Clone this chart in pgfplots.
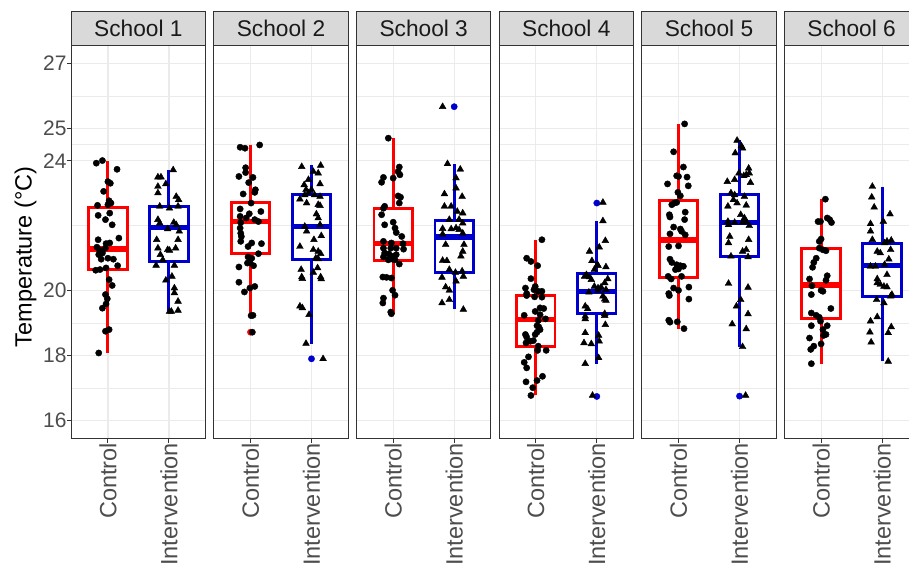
\documentclass[border=0pt]{standalone}
\usepackage{fontspec}
\setmainfont{Liberation Sans}
\usepackage{pgfplots}
\pgfplotsset{compat=1.18}
\definecolor{gridc}{HTML}{EBEBEB}
\definecolor{borderc}{HTML}{333333}
\definecolor{tickc}{HTML}{4D4D4D}
\definecolor{stripc}{HTML}{D9D9D9}
\definecolor{striptext}{HTML}{1A1A1A}
\definecolor{cred}{HTML}{FF0000}
\definecolor{cblue}{HTML}{0000CD}
\pgfplotsset{
  panel/.style={
    width=134.2pt, height=392.6pt, scale only axis,
    xmin=0.4, xmax=2.6, ymin=15.45, ymax=27.55,
    xtick={1,2}, xticklabels={Control,Intervention},
    ytick={16,18,20,24,25,27}, minor ytick={17,19,22,24.5,26},
    yticklabels={16,18,20,24,25,27},
    grid=both,
    major grid style={draw=gridc, line width=1.2pt},
    minor grid style={draw=gridc, line width=0.6pt},
    axis line style={draw=borderc, line width=0.9pt},
    tick align=outside, major tick length=4.5pt, minor tick length=0pt,
    tick style={draw=borderc, line width=0.9pt},
    xtick pos=bottom, ytick pos=left,
    /pgf/number format/assume math mode=true,
    x tick label style={rotate=90, anchor=east, inner sep=0pt, font=\fontsize{23.5}{23.5}\selectfont, text=tickc},
    y tick label style={anchor=east, inner sep=0pt, font=\fontsize{21}{21}\selectfont, text=tickc},
    every axis title/.style={at={(0.5,1)}, anchor=south, fill=stripc, draw=borderc, line width=0.9pt, minimum width=134.2pt, minimum height=33.4pt, inner sep=0pt, text=striptext, font=\fontsize{22.7}{22.7}\selectfont},
  },
  noy/.style={yticklabels={}, ytick style={draw=none}},
  cpts/.style={only marks, mark=*, mark size=3.15pt, black},
  ipts/.style={only marks, mark=triangle*, mark size=3.9pt, black},
  ocout/.style={only marks, mark=*, mark size=3.15pt, cred},
  oiout/.style={only marks, mark=*, mark size=3.15pt, cblue},
}
% box: lower whisker, lower quartile, median, upper quartile, upper whisker
\newcommand{\ctrlbox}[5]{%
  \addplot[draw=cred, line width=2.9pt, mark=none] coordinates {(1,#1) (1,#2)};
  \addplot[draw=cred, line width=2.9pt, mark=none] coordinates {(1,#4) (1,#5)};
  \addplot[draw=cred, fill=white, line width=2.9pt, mark=none] coordinates {(0.685,#2) (1.315,#2) (1.315,#4) (0.685,#4)} -- cycle;
  \addplot[draw=cred, line width=5.6pt, mark=none] coordinates {(0.685,#3) (1.315,#3)};
}
\newcommand{\intbox}[5]{%
  \addplot[draw=cblue, line width=2.9pt, mark=none] coordinates {(2,#1) (2,#2)};
  \addplot[draw=cblue, line width=2.9pt, mark=none] coordinates {(2,#4) (2,#5)};
  \addplot[draw=cblue, fill=white, line width=2.9pt, mark=none] coordinates {(1.685,#2) (2.315,#2) (2.315,#4) (1.685,#4)} -- cycle;
  \addplot[draw=cblue, line width=5.6pt, mark=none] coordinates {(1.685,#3) (2.315,#3)};
}
\begin{document}
\begin{tikzpicture}
% ---------------- School 1
\begin{axis}[panel, at={(71.3pt,125.7pt)}, anchor=south west, title={School 1}]
\ctrlbox{18.08}{20.65}{21.29}{22.56}{24.01}
\intbox{19.36}{20.90}{21.95}{22.59}{23.72}
\addplot[cpts] table {
x y
0.81 23.93
0.91 24.01
1.15 23.74
1.00 23.36
1.04 23.31
0.93 23.06
1.02 22.77
1.05 22.70
1.00 22.65
0.83 22.63
1.03 22.39
0.84 22.32
0.96 22.19
1.07 22.03
1.18 21.62
0.84 21.57
0.97 21.45
1.03 21.47
0.82 21.34
0.86 21.26
0.96 21.31
0.85 21.11
0.91 21.16
0.89 20.97
1.00 21.00
1.09 20.97
1.16 20.77
0.80 20.63
0.87 20.65
0.97 20.70
1.02 20.34
1.07 20.16
0.96 19.88
0.99 19.75
0.97 19.59
0.91 19.46
1.02 18.80
0.96 18.75
0.85 18.08
};
\addplot[ipts] table {
x y
1.82 23.50
1.87 23.50
2.07 23.72
1.95 23.29
1.82 23.21
1.82 23.01
2.12 22.90
2.16 22.80
1.85 22.60
2.01 22.54
2.15 22.60
1.82 22.19
1.85 22.08
2.08 22.10
2.12 22.03
1.98 21.90
2.17 21.83
1.80 21.57
2.15 21.57
1.82 21.31
1.98 21.26
2.01 21.24
2.11 21.31
1.86 21.11
1.90 20.95
1.79 20.78
2.09 20.78
1.95 20.32
2.05 20.44
2.09 20.08
2.09 19.93
2.15 19.67
2.04 19.36
2.15 19.39
2.01 19.36
};
\end{axis}
% ---------------- School 2
\begin{axis}[panel, noy, at={(213.9pt,125.7pt)}, anchor=south west, title={School 2}]
\ctrlbox{19.23}{21.14}{22.13}{22.72}{24.49}
\intbox{18.37}{20.95}{21.98}{22.95}{23.86}
\addplot[ocout] coordinates {(1,18.72)};
\addplot[oiout] coordinates {(2,17.90)};
\addplot[cpts] table {
x y
0.83 24.42
0.91 24.39
1.15 24.49
0.92 23.79
0.92 23.64
0.81 23.52
1.04 23.49
0.97 23.33
1.08 23.11
1.07 23.03
0.88 22.98
1.01 22.70
0.83 22.52
0.98 22.37
1.17 22.44
0.83 22.29
0.93 22.24
1.07 22.19
1.13 22.13
0.84 22.10
0.83 21.93
0.84 21.77
0.85 21.67
0.84 21.52
1.02 21.47
0.96 21.36
1.18 21.45
1.13 21.14
0.96 21.04
1.02 21.00
0.99 20.87
0.95 20.85
1.05 20.77
0.81 20.73
0.81 20.26
0.90 19.96
0.99 20.08
1.07 20.13
1.01 19.23
1.04 19.24
1.03 18.72
};
\addplot[ipts] table {
x y
1.84 23.82
2.15 23.86
2.11 23.62
2.03 23.67
1.95 23.42
1.88 23.26
2.14 23.29
1.91 23.11
2.00 23.11
1.95 23.01
1.89 22.95
1.81 22.82
2.05 22.95
2.14 22.90
1.92 22.70
2.11 22.65
2.14 22.62
2.08 22.36
2.11 22.24
1.89 21.98
2.14 22.03
1.92 21.83
2.16 21.69
2.04 21.57
1.81 21.36
2.03 21.26
2.11 21.21
2.15 21.14
2.11 20.98
2.07 21.00
1.83 20.65
1.84 20.42
1.85 20.37
2.10 20.70
2.03 20.56
2.15 20.42
2.16 20.36
1.81 19.52
1.85 19.47
1.96 19.26
1.91 18.37
2.19 17.90
};
\end{axis}
% ---------------- School 3
\begin{axis}[panel, noy, at={(356.6pt,125.7pt)}, anchor=south west, title={School 3}]
\ctrlbox{19.29}{20.93}{21.45}{22.52}{24.70}
\intbox{19.42}{20.57}{21.65}{22.16}{23.91}
\addplot[oiout] coordinates {(2,25.67)};
\addplot[cpts] table {
x y
0.92 24.70
1.10 23.81
1.08 23.67
1.11 23.57
0.84 23.49
1.00 23.47
0.81 23.34
1.08 22.92
1.12 22.88
1.10 22.70
0.86 22.60
0.84 22.54
0.81 22.34
1.00 22.11
0.86 22.03
1.03 21.93
1.05 21.79
1.14 21.67
0.84 21.52
0.97 21.47
1.16 21.45
0.84 21.31
0.96 21.31
1.05 21.31
1.17 21.28
0.86 21.16
0.93 21.13
1.00 21.06
1.05 21.11
0.84 21.04
0.99 20.97
0.92 20.95
1.03 20.95
1.10 20.82
0.83 20.42
0.89 20.41
0.97 20.39
0.99 20.01
1.03 19.86
0.84 19.77
0.83 19.62
0.96 19.34
0.97 19.29
};
\addplot[ipts] table {
x y
1.81 25.67
1.89 23.91
2.10 23.74
2.03 23.47
2.03 23.16
1.84 22.98
2.13 22.90
1.84 22.60
1.95 22.60
2.05 22.44
2.14 22.39
1.92 22.19
2.08 22.19
2.14 22.08
1.81 21.91
1.95 21.90
2.03 21.93
2.08 21.88
1.81 21.74
2.14 21.77
1.86 21.42
2.16 21.42
2.14 21.21
2.11 21.06
1.81 20.93
1.88 20.92
1.92 20.65
2.02 20.56
2.13 20.60
2.15 20.44
1.80 20.41
2.03 20.29
1.86 20.11
1.92 20.01
1.80 19.62
1.92 19.72
2.15 19.42
};
\end{axis}
% ---------------- School 4
\begin{axis}[panel, noy, at={(499.2pt,125.7pt)}, anchor=south west, title={School 4}]
\ctrlbox{16.77}{18.27}{19.11}{19.86}{21.57}
\intbox{17.75}{19.29}{19.98}{20.53}{22.15}
\addplot[oiout] coordinates {(2,22.70) (2,16.74)};
\addplot[cpts] table {
x y
1.10 21.57
0.85 21.00
0.92 20.90
1.03 20.77
0.92 20.37
0.83 20.08
0.99 20.13
0.97 20.03
0.85 19.91
1.04 19.98
1.10 19.98
0.85 19.85
0.98 19.81
1.10 19.80
1.07 19.47
1.13 19.45
0.99 19.36
0.81 19.24
1.07 19.26
1.04 19.08
1.16 19.13
1.02 18.92
1.05 18.88
1.07 18.80
1.02 18.72
0.83 18.65
0.85 18.57
0.99 18.65
0.91 18.44
0.84 18.39
0.96 18.46
1.04 18.29
1.17 18.16
1.03 18.16
0.88 17.96
0.81 17.79
0.85 17.62
1.11 17.36
1.02 17.23
0.84 17.19
0.95 17.01
0.92 16.77
};
\addplot[ipts] table {
x y
2.10 22.72
2.10 22.15
2.14 21.54
1.88 21.21
2.04 21.34
1.92 20.92
2.01 20.80
2.15 20.73
2.02 20.77
1.96 20.65
1.83 20.49
1.88 20.42
1.80 20.44
1.91 20.34
2.18 20.36
2.13 20.24
1.96 20.13
2.02 20.08
2.07 20.11
1.87 19.95
2.02 20.00
2.15 20.03
2.10 19.83
2.13 19.74
1.81 19.52
2.15 19.70
1.85 19.44
1.81 19.21
2.13 19.29
2.13 19.23
1.81 19.13
2.14 18.95
1.81 18.70
2.03 18.62
1.79 18.39
1.91 18.36
2.04 18.44
2.03 17.93
1.81 17.75
1.93 16.77
};
\end{axis}
% ---------------- School 5
\begin{axis}[panel, noy, at={(641.9pt,125.7pt)}, anchor=south west, title={School 5}]
\ctrlbox{18.83}{20.41}{21.57}{22.78}{25.14}
\intbox{18.27}{21.04}{22.10}{22.97}{24.63}
\addplot[oiout] coordinates {(2,16.75)};
\addplot[cpts] table {
x y
1.10 25.14
0.92 24.28
1.08 23.81
0.97 23.54
1.00 23.52
1.14 23.50
0.82 23.29
1.16 23.23
0.99 23.03
1.03 22.92
0.97 22.72
0.93 22.70
0.89 22.65
0.85 22.34
1.11 22.42
0.86 22.27
1.10 22.19
0.92 21.96
1.03 21.90
1.05 21.83
1.11 21.72
0.86 21.75
0.84 21.36
1.00 21.38
0.86 20.97
0.89 20.87
0.97 20.80
1.03 20.77
1.08 20.75
0.95 20.65
1.00 20.67
0.83 20.44
0.88 20.36
1.05 20.44
0.92 20.08
1.00 20.01
1.17 20.11
0.84 19.91
0.85 19.85
1.17 19.74
0.84 19.09
0.86 19.03
0.98 19.04
1.09 18.83
};
\addplot[ipts] table {
x y
1.96 24.63
2.03 24.46
2.05 24.39
1.93 24.24
2.15 23.77
1.99 23.62
2.11 23.57
1.80 23.36
1.92 23.42
2.07 23.54
2.18 23.33
2.16 23.62
1.86 23.01
1.92 22.95
1.90 22.80
1.96 22.70
2.08 22.90
1.81 22.60
2.11 22.63
2.02 22.34
2.08 22.24
1.81 22.13
1.82 22.03
1.92 22.10
2.05 22.10
2.11 22.13
2.16 22.00
1.84 21.67
2.15 21.57
1.82 21.47
2.05 21.21
2.11 21.26
1.86 21.06
2.14 21.04
1.82 20.22
2.14 20.10
2.02 19.72
1.95 19.52
2.14 19.28
1.88 18.97
2.11 18.82
2.05 18.27
2.10 16.77
};
\end{axis}
% ---------------- School 6
\begin{axis}[panel, noy, at={(784.5pt,125.7pt)}, anchor=south west, title={School 6}]
\ctrlbox{17.75}{19.13}{20.18}{21.29}{22.82}
\intbox{17.82}{19.81}{20.77}{21.44}{23.21}
\addplot[cpts] table {
x y
1.07 22.82
0.95 22.13
0.99 22.13
1.10 22.24
1.14 22.19
1.17 22.10
1.00 21.59
0.97 21.52
0.97 21.31
1.08 21.23
1.03 21.26
0.92 21.00
0.88 20.87
0.86 20.72
0.81 20.36
1.10 20.46
1.08 20.32
0.85 20.15
1.00 20.01
0.84 19.88
1.03 19.98
1.16 19.45
0.84 19.31
0.92 19.24
0.97 19.18
0.99 19.06
1.10 18.92
0.84 18.92
1.03 18.80
1.08 18.65
1.04 18.62
0.81 18.54
1.00 18.36
0.88 18.29
0.83 18.19
0.84 17.75
};
\addplot[ipts] table {
x y
1.84 23.21
1.83 22.88
1.87 22.57
2.13 22.36
2.02 22.13
1.81 22.06
1.81 21.83
1.84 21.57
2.15 21.55
2.08 21.52
2.04 21.47
1.92 21.21
2.14 21.26
1.97 21.16
2.11 20.97
1.81 20.75
1.89 20.75
2.04 20.80
2.08 20.49
1.92 20.36
1.92 20.24
1.97 20.19
2.03 20.13
2.08 20.11
2.16 19.88
2.14 19.83
1.91 19.72
2.03 19.62
1.92 19.19
1.81 19.06
2.15 18.88
1.80 18.72
2.10 18.70
1.82 18.41
2.10 17.82
};
\end{axis}
\node[rotate=90, anchor=base, font=\fontsize{23.5}{23.5}\selectfont, text=black] at (31.5pt,307pt) {Temperature (°C)};
\pgfresetboundingbox
\path[use as bounding box] (0pt,0pt) rectangle (909pt,564pt);
\end{tikzpicture}
\end{document}
